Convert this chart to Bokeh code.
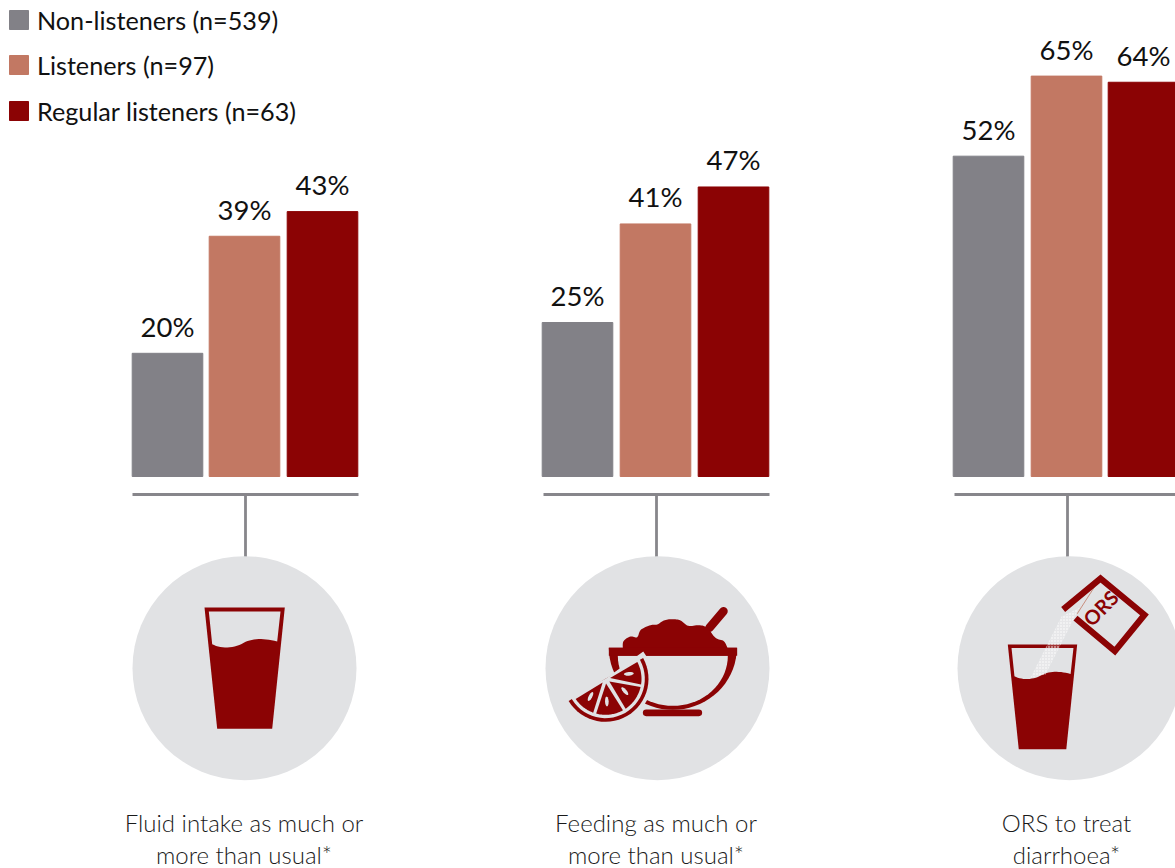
import math

from bokeh.core.properties import value
from bokeh.embed import file_html
from bokeh.models import ColumnDataSource, Range1d
from bokeh.plotting import figure
from bokeh.resources import INLINE

# Survey results, percent of respondents in each listener group
behaviours = ["Fluid intake", "Feeding", "ORS"]
non_listeners = [20, 25, 52]
listeners = [39, 41, 65]
regular_listeners = [43, 47, 64]

series_names = ["Non-listeners (n=539)", "Listeners (n=97)", "Regular listeners (n=63)"]
caption_lines = [
    ["Fluid intake as much or", "more than usual*"],
    ["Feeding as much or", "more than usual*"],
    ["ORS to treat", "diarrhoea*"],
]

GREY = "#828187"
SALMON = "#C27863"
RED = "#8B0304"
DISC = "#E1E2E4"
RULE = "#87868B"
INK = "#111111"
SOFT_INK = "#1A1A1A"

W, H = 1175, 868
BASE_PX = 476.0
PX_PER_PCT = 6.16

p = figure(width=W, height=H, output_backend="svg", toolbar_location=None,
           x_range=Range1d(0, W),
           y_range=Range1d(-(H - BASE_PX) / PX_PER_PCT, BASE_PX / PX_PER_PCT),
           min_border=0, outline_line_color=None, background_fill_color="white")
p.axis.visible = False
p.grid.visible = False
# Second vertical scale in screen units for the connectors, icons and captions
p.extra_y_ranges = {"px": Range1d(H, 0)}

FONT = value("Lato")
LIGHT = value("Lato Light")
BAR_W = 70.6
bar_left = [[132, 209, 287], [542, 620, 698], [953, 1031, 1108]]
colours = [GREY, SALMON, RED]
series = [non_listeners, listeners, regular_listeners]

# Bars and the percentages above them
for s, (vals, col) in enumerate(zip(series, colours)):
    xs = [bar_left[g][s] + BAR_W / 2 - 0.3 for g in range(len(behaviours))]
    src = ColumnDataSource(dict(x=xs, top=vals, label=[f"{v}%" for v in vals]))
    p.vbar(x="x", top="top", bottom=0, width=BAR_W, color=col, source=src)
    p.text(x="x", y="top", text="label", source=src, text_align="center",
           text_baseline="alphabetic", y_offset=-27, text_color=INK,
           text_font=FONT, text_font_size="27.5px")

# Legend
legend_top = [10, 55, 101]
for name, col, top in zip(series_names, colours, legend_top):
    p.quad(left=[9], right=[28], top=[top], bottom=[top + 19], color=col, y_range_name="px")
    p.text(x=[36.5], y=[top + 9.5], text=[name], text_baseline="alphabetic", text_color=INK,
           text_font=FONT, text_font_size="25.2px", y_range_name="px")

# Brackets and discs under each group
rule_x = [(132, 358), (543, 769), (954, 1175)]
stem_x = [245, 656, 1067]
disc_x = [244, 657, 1069]
for (x0, x1), sx, dx in zip(rule_x, stem_x, disc_x):
    p.line([x0, x1], [494, 494], line_color=RULE, line_width=2.8, y_range_name="px")
    p.line([sx, sx], [494, 557], line_color=RULE, line_width=2.8, y_range_name="px")
    p.circle(x=[dx], y=[667.7], radius=112, fill_color=DISC, line_color=None, y_range_name="px")

# Captions
caption_x = [243.5, 655.5, 1066]
for cx, lines in zip(caption_x, caption_lines):
    for line, baseline in zip(lines, (822, 853.5)):
        p.text(x=[cx], y=[baseline], text=[line], text_align="center", text_baseline="alphabetic",
               text_color=SOFT_INK, text_font=LIGHT, text_font_size="24px", y_range_name="px")


def cubic(a, b, c, d, n=14):
    out = []
    for i in range(n + 1):
        t = i / n
        u = 1 - t
        out.append((u**3 * a[0] + 3 * u * u * t * b[0] + 3 * u * t * t * c[0] + t**3 * d[0],
                    u**3 * a[1] + 3 * u * u * t * b[1] + 3 * u * t * t * c[1] + t**3 * d[1]))
    return out


def catmull(pts, n=8):
    out = []
    for i in range(len(pts) - 1):
        a, b, c, d = pts[max(i - 1, 0)], pts[i], pts[i + 1], pts[min(i + 2, len(pts) - 1)]
        c1 = (b[0] + (c[0] - a[0]) / 6, b[1] + (c[1] - a[1]) / 6)
        c2 = (c[0] - (d[0] - b[0]) / 6, c[1] - (d[1] - b[1]) / 6)
        out += cubic(b, c1, c2, c, n)
    return out


def fill(points, colour, **kw):
    xs, ys = zip(*points)
    p.patch(list(xs), list(ys), fill_color=colour, line_color=None, y_range_name="px", **kw)


def glass(ox, oy, k):
    # Tumbler outline in a local unit system, scaled to the requested size
    to = lambda q: (ox + q[0] * k, oy + q[1] * k)
    fill([to(q) for q in [(0, 0), (80.3, 0), (67.7, 121.3), (12.7, 121.3)]], RED)
    wave = cubic((7.7, 36.7), (16, 41.3), (29.3, 41.3), (39.3, 35.3)) + \
        cubic((39.3, 35.3), (47.7, 30.6), (59.3, 30.6), (72.7, 34))
    fill([to(q) for q in [(4.3, 4), (76, 4)] + wave[::-1]], DISC)


# Drinking glass icon
glass(204, 607, 1.0)

# Bowl and citrus icon, outlined in a 3x local grid around its disc
zx = lambda v: 535 + v / 3
zy = lambda v: 550 + v / 3
zp = lambda pts: [(zx(a), zy(b)) for a, b in pts]

p.line([zx(522), zx(564)], [zy(232), zy(182)], line_color=RED, line_width=8.5,
       line_cap="round", y_range_name="px")
mound = [(262, 295), (264, 272), (285, 258), (305, 260), (316, 238), (345, 224), (365, 222),
         (385, 210), (410, 206), (435, 210), (458, 226), (490, 224), (515, 232), (540, 262),
         (565, 272), (577, 295)]
fill(zp(catmull(mound)), RED)


def half_round(cx, top, rx, ry):
    return [(cx + rx * math.cos(math.radians(a)), top + ry * math.sin(math.radians(a)))
            for a in range(0, 181, 5)]


fill(zp(half_round(412, 292, 192, 186)), RED)
fill(zp(half_round(412, 316, 165, 150)), DISC)
fill(zp([(220, 292), (605, 292), (605, 316), (220, 316)]), RED)
p.line([zx(332), zx(490)], [zy(487), zy(487)], line_color=RED, line_width=6.6,
       line_cap="round", y_range_name="px")


def wedge(r, a0, a1, inner=0.0, cx=210, cy=385):
    steps = 30
    angles = [a0 + (a1 - a0) * i / steps for i in range(steps + 1)]
    outer = [(cx + r * math.cos(math.radians(a)), cy + r * math.sin(math.radians(a))) for a in angles]
    if inner:
        mid = math.radians((a0 + a1) / 2)
        return outer + [(cx + inner * math.cos(mid), cy + inner * math.sin(mid))]
    return outer + [(cx, cy)]


fill(zp(wedge(140, -36, 156)), DISC)
fill(zp(wedge(129, -29, 149)), RED)
fill(zp(wedge(118, -34, 154)), DISC)
for a0, a1 in [(-28, 9), (13, 56), (61, 105), (110, 146)]:
    fill(zp(wedge(108, a0, a1, inner=14)), RED)
seeds = [(280, 370, -5), (268, 422, 50), (214, 453, 88), (165, 438, 118)]
for sx, sy, ang in seeds:
    pts = [(sx + 15 * math.cos(math.radians(t)) * math.cos(math.radians(ang))
            - 5.5 * math.sin(math.radians(t)) * math.sin(math.radians(ang)),
            sy + 15 * math.cos(math.radians(t)) * math.sin(math.radians(ang))
            + 5.5 * math.sin(math.radians(t)) * math.cos(math.radians(ang)))
           for t in range(0, 360, 30)]
    fill(zp(pts), DISC)

# ORS sachet pouring into a glass
glass(1007.3, 644, 0.864)
ox = lambda v: 945 + v / 3
oy = lambda v: 550 + v / 3
op = lambda pts: [(ox(a), oy(b)) for a, b in pts]
xs, ys = zip(*op([(348, 198), (402, 172), (300, 372), (255, 382)]))
p.patch(list(xs), list(ys), fill_color="white", fill_alpha=0.2, line_color=None,
        hatch_pattern="dot", hatch_color="white", hatch_scale=3, y_range_name="px")
p.line([ox(456), ox(395)], [oy(95), oy(190)], line_color=SALMON, line_width=0.8, y_range_name="px")
p.line([ox(353), ox(465), ox(597), ox(508), ox(390)], [oy(177), oy(84), oy(193), oy(302), oy(203)],
       line_color=RED, line_width=6.2, line_join="miter", y_range_name="px")
p.text(x=[ox(465)], y=[oy(172)], text=["ORS"], angle=math.radians(46), text_align="center",
       text_baseline="middle", text_color=RED, text_font=value("Lato"),
       text_font_style="bold", text_font_size="20px", y_range_name="px")

open("out.html", "w").write(file_html(p, INLINE))
